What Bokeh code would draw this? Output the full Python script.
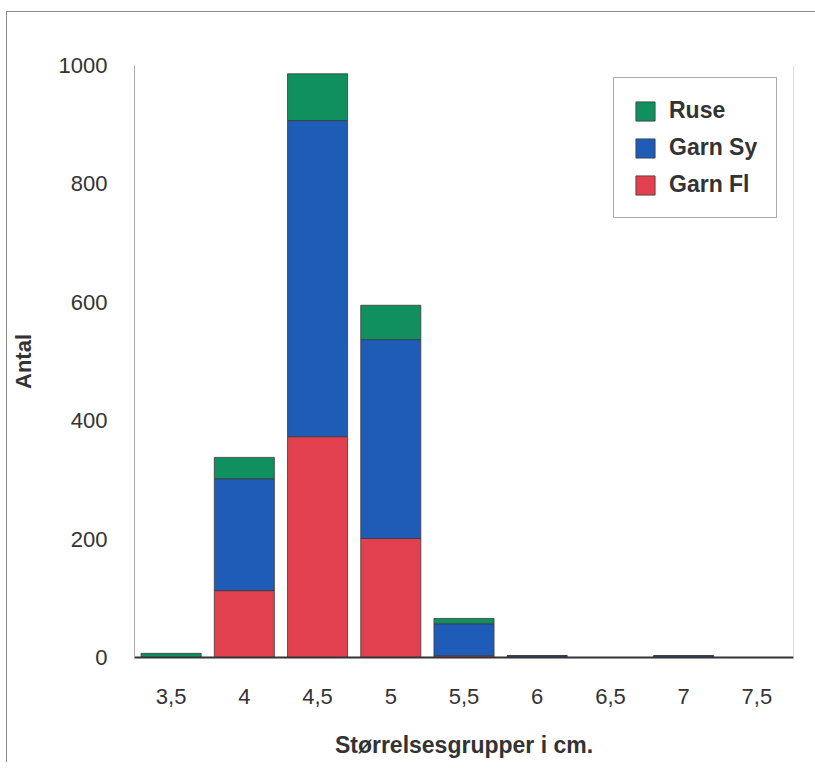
from bokeh.plotting import figure
from bokeh.models import FactorRange, Range1d, Span, Legend, LegendItem
from bokeh.embed import file_html
from bokeh.resources import INLINE

categories = ["3,5", "4", "4,5", "5", "5,5", "6", "6,5", "7", "7,5"]
garn_fl = [0, 113, 373, 201, 3, 0, 0, 0, 0]
garn_sy = [0, 189, 534, 336, 54, 3, 0, 3, 0]
ruse = [7, 36, 79, 58, 9, 0, 0, 0, 0]
series = ["Garn Fl", "Garn Sy", "Ruse"]
colors = ["#e2404f", "#1f5cb8", "#10905f"]
y_ticks = [0, 200, 400, 600, 800, 1000]

FONT = "Liberation Sans"

p = figure(x_range=FactorRange(*categories, range_padding=0),
           y_range=Range1d(0, 1000),
           frame_width=659, frame_height=592,
           min_border_left=124, min_border_right=24,
           min_border_top=53, min_border_bottom=105,
           output_backend="svg", toolbar_location=None)

p.styles = {"border-top": "1px solid #8a8a8a", "border-left": "1px solid #8a8a8a",
            "margin-left": "6px", "margin-top": "11px"}

data = dict(cat=categories, **{"Garn Fl": garn_fl, "Garn Sy": garn_sy, "Ruse": ruse})
renderers = p.vbar_stack(series, x="cat", width=0.82, source=data, color=colors,
                         line_color="#3a3a3a", line_width=0.8)

p.outline_line_color = None
p.xgrid.grid_line_color = None
p.ygrid.grid_line_color = None

p.yaxis.ticker = y_ticks
for ax in (p.xaxis, p.yaxis):
    ax.major_tick_line_color = None
    ax.minor_tick_line_color = None
    ax.major_tick_out = 0
    ax.major_tick_in = 0
    ax.major_label_text_font = FONT
    ax.major_label_text_font_size = "22px"
    ax.major_label_text_color = "#333333"
    ax.axis_label_text_font = FONT
    ax.axis_label_text_font_style = "bold"
    ax.axis_label_text_color = "#333333"

p.xaxis.axis_label = "Størrelsesgrupper i cm."
p.yaxis.axis_label = "Antal"
p.xaxis.axis_label_text_font_size = "23px"
p.yaxis.axis_label_text_font_size = "22px"
p.xaxis.axis_line_color = "#333333"
p.xaxis.axis_line_width = 2
p.yaxis.axis_line_color = "#aaaaaa"
p.yaxis.axis_line_width = 1
p.xaxis.major_label_standoff = 31
p.xaxis.axis_label_standoff = 25
p.yaxis.major_label_standoff = 27
p.yaxis.axis_label_standoff = 20

p.add_layout(Span(location=9, dimension="height", line_color="#bbbbbb", line_width=1))

items = [LegendItem(label=s, renderers=[r]) for s, r in zip(series, renderers)][::-1]
legend = Legend(items=items, location=(479, 439),
                glyph_width=24, glyph_height=24, label_height=24,
                label_standoff=12, spacing=10, padding=19, margin=0,
                label_text_font=FONT, label_text_font_size="23px",
                label_text_font_style="bold", label_text_color="#333333",
                border_line_color="#555555", border_line_width=1,
                background_fill_color="white", background_fill_alpha=1)
p.add_layout(legend)

open("out.html", "w").write(file_html(p, INLINE))
